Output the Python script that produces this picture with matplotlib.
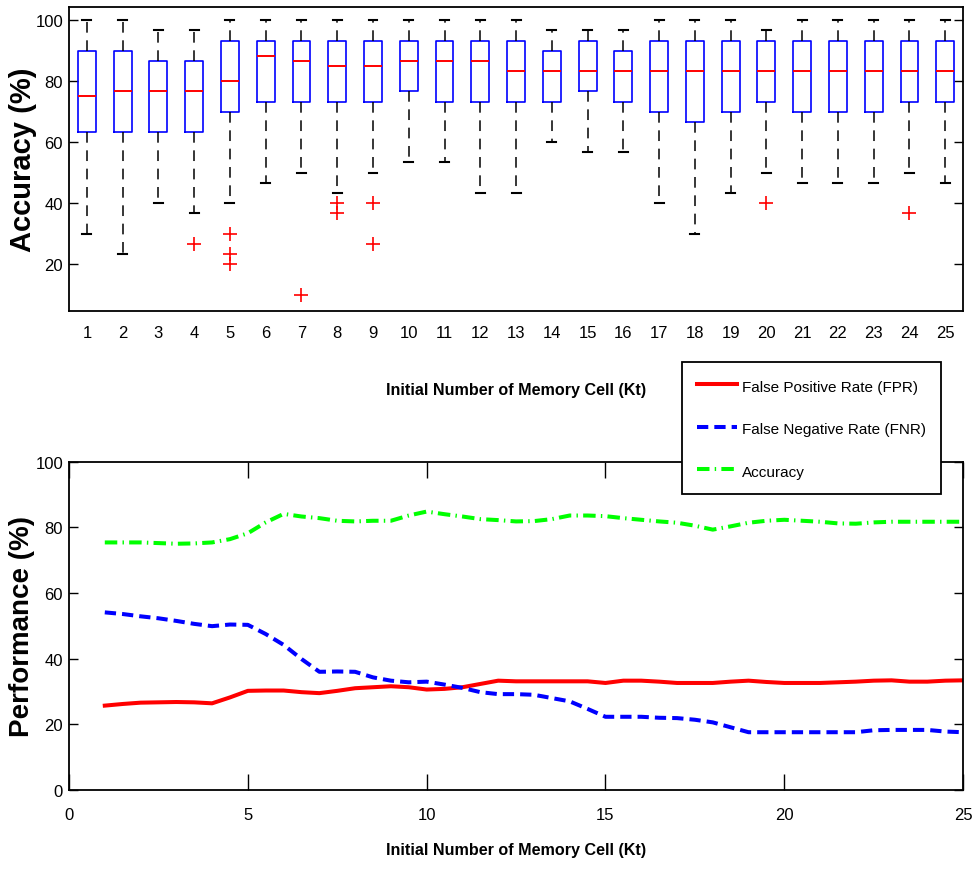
import numpy as np
import matplotlib
matplotlib.use("Agg")
import matplotlib.pyplot as plt

# ---------------- data: top box plot ----------------
positions = list(range(1, 26))
tick_labels = [str(i) for i in positions]
whis_hi = [100, 100, 96.7, 96.7, 100, 100, 100, 100, 100, 100, 100, 100, 100,
           96.7, 96.7, 96.7, 100, 100, 100, 96.7, 100, 100, 100, 100, 100]
q3 = [90, 90, 86.7, 86.7, 93.3, 93.3, 93.3, 93.3, 93.3, 93.3, 93.3, 93.3, 93.3,
      90, 93.3, 90, 93.3, 93.3, 93.3, 93.3, 93.3, 93.3, 93.3, 93.3, 93.3]
medians = [75, 76.7, 76.7, 76.7, 80, 88.3, 86.7, 85, 85, 86.7, 86.7, 86.7, 83.3,
           83.3, 83.3, 83.3, 83.3, 83.3, 83.3, 83.3, 83.3, 83.3, 83.3, 83.3, 83.3]
q1 = [63.3, 63.3, 63.3, 63.3, 70, 73.3, 73.3, 73.3, 73.3, 76.7, 73.3, 73.3, 73.3,
      73.3, 76.7, 73.3, 70, 66.7, 70, 73.3, 70, 70, 70, 73.3, 73.3]
whis_lo = [30, 23.3, 40, 36.7, 40, 46.7, 50, 43.3, 50, 53.3, 53.3, 43.3, 43.3,
           60, 56.7, 56.7, 40, 30, 43.3, 50, 46.7, 46.7, 46.7, 50, 46.7]
outliers = {4: [26.7], 5: [30, 23.3, 20], 7: [10], 8: [40, 36.7], 9: [40, 26.7],
            20: [40], 24: [36.7]}

# ---------------- data: bottom line plot ----------------
kt = np.arange(1, 25.01, 0.5)
fpr = [25.7, 26.2, 26.6, 26.7, 26.8, 26.7, 26.4, 28.2, 30.2, 30.3, 30.3, 29.8, 29.5,
       30.2, 31.0, 31.3, 31.6, 31.3, 30.6, 30.8, 31.3, 32.3, 33.3, 33.1, 33.1, 33.1,
       33.1, 33.1, 32.6, 33.3, 33.3, 33.0, 32.6, 32.6, 32.6, 33.0, 33.3, 32.9, 32.6,
       32.6, 32.6, 32.8, 33.0, 33.3, 33.4, 33.0, 33.0, 33.3, 33.4]
fnr = [54.1, 53.6, 52.9, 52.3, 51.5, 50.6, 49.9, 50.4, 50.3, 47.5, 44.2, 39.9, 36.0,
       36.1, 36.0, 34.3, 33.3, 32.8, 33.0, 32.1, 31.1, 29.8, 29.2, 29.2, 29.0, 28.0,
       27.0, 24.7, 22.3, 22.3, 22.3, 22.0, 21.9, 21.4, 20.6, 19.1, 17.6, 17.6, 17.6,
       17.6, 17.6, 17.6, 17.6, 18.2, 18.3, 18.3, 18.3, 17.8, 17.6]
acc = [75.4, 75.4, 75.4, 75.2, 75.0, 75.1, 75.4, 76.4, 78.2, 81.5, 84.1, 83.3, 82.8,
       82.0, 81.8, 82.0, 82.0, 83.6, 84.8, 84.0, 83.3, 82.5, 82.2, 81.8, 81.9, 82.5,
       83.6, 83.6, 83.4, 82.8, 82.3, 81.8, 81.4, 80.5, 79.3, 80.3, 81.4, 82.0, 82.3,
       82.0, 81.7, 81.2, 81.1, 81.5, 81.7, 81.7, 81.7, 81.7, 81.7]
series_names = ["False Positive Rate (FPR)", "False Negative Rate (FNR)", "Accuracy"]

FONT = ["Liberation Sans", "DejaVu Sans"]
TICK_SIZE = 12

fig = plt.figure(figsize=(9.75, 8.7), dpi=100)

# ---------------- top: box plot ----------------
ax1 = fig.add_axes([0.0708, 0.6414, 0.917, 0.3494])
stats = []
for i, p in enumerate(positions):
    stats.append(dict(med=medians[i], q1=q1[i], q3=q3[i],
                      whislo=whis_lo[i], whishi=whis_hi[i],
                      fliers=outliers.get(p, []), label=tick_labels[i]))
ax1.bxp(stats, positions=positions, widths=0.5, capwidths=0.25,
        boxprops=dict(color=(0, 0, 1), linewidth=1.2),
        medianprops=dict(color=(1, 0, 0), linewidth=1.4),
        whiskerprops=dict(color="black", linewidth=1.1, linestyle=(0, (7, 5))),
        capprops=dict(color="black", linewidth=1.5),
        flierprops=dict(marker="+", markeredgecolor=(1, 0, 0), markersize=10,
                        markeredgewidth=1.2, linestyle="none"))
ax1.set_xlim(0.5, 25.5)
ax1.set_ylim(4.6, 104.3)
ax1.set_yticks([20, 40, 60, 80, 100])
ax1.set_xticks(positions)
ax1.set_xticklabels(tick_labels)
ax1.tick_params(axis="x", length=0, pad=10, labelsize=TICK_SIZE)
ax1.tick_params(axis="y", direction="in", left=True, right=True, length=6.5,
                width=1.0, pad=4.3, labelsize=TICK_SIZE)
for lab in ax1.get_xticklabels() + ax1.get_yticklabels():
    lab.set_family(FONT)
ax1.set_xlabel("Initial Number of Memory Cell (Kt)", family=FONT,
               fontweight="bold", fontsize=11.6, va="center")
ax1.xaxis.set_label_coords(0.5, -0.257)
ax1.set_ylabel("Accuracy (%)", family=FONT, fontweight="bold", fontsize=21,
               va="center")
ax1.yaxis.set_label_coords(-0.0515, 0.5)
for s in ax1.spines.values():
    s.set_linewidth(1.3)

# ---------------- bottom: line plot ----------------
ax2 = fig.add_axes([0.0708, 0.0908, 0.917, 0.3774])
l1, = ax2.plot(kt, fpr, color=(1, 0, 0), linewidth=2.9, linestyle="-",
               label=series_names[0])
l2, = ax2.plot(kt, fnr, color=(0, 0, 1), linewidth=2.9,
               linestyle=(0, (2.8, 1.5)), label=series_names[1])
l3, = ax2.plot(kt, acc, color=(0, 1, 0), linewidth=2.9,
               linestyle=(0, (3.1, 1.3, 0.35, 1.3)), label=series_names[2])
ax2.set_xlim(0, 25)
ax2.set_ylim(0, 100)
ax2.set_xticks([0, 5, 10, 15, 20, 25])
ax2.set_yticks([0, 20, 40, 60, 80, 100])
ax2.tick_params(axis="x", direction="in", top=True, bottom=True, length=11.5,
                width=1.0, pad=12, labelsize=TICK_SIZE)
ax2.tick_params(axis="y", direction="in", left=True, right=True, length=6.5,
                width=1.0, pad=4.3, labelsize=TICK_SIZE)
for lab in ax2.get_xticklabels() + ax2.get_yticklabels():
    lab.set_family(FONT)
ax2.set_xlabel("Initial Number of Memory Cell (Kt)", family=FONT,
               fontweight="bold", fontsize=11.6, va="center")
ax2.xaxis.set_label_coords(0.5, -0.18)
ax2.set_ylabel("Performance (%)", family=FONT, fontweight="bold", fontsize=20,
               va="center")
ax2.yaxis.set_label_coords(-0.0526, 0.5)
for s in ax2.spines.values():
    s.set_linewidth(1.3)

leg = ax2.legend(handles=[l1, l2, l3], loc="upper right",
                 bbox_to_anchor=(941 / 975, 1 - 363 / 870),
                 bbox_transform=fig.transFigure, borderaxespad=0,
                 prop=dict(family=FONT, size=11), fancybox=False,
                 framealpha=1, edgecolor="black", handlelength=2.6,
                 handleheight=1.3, handletextpad=0.3, labelspacing=1.7,
                 borderpad=1.0)
leg.get_frame().set_linewidth(1.3)

fig.savefig("out.png", dpi=100)
